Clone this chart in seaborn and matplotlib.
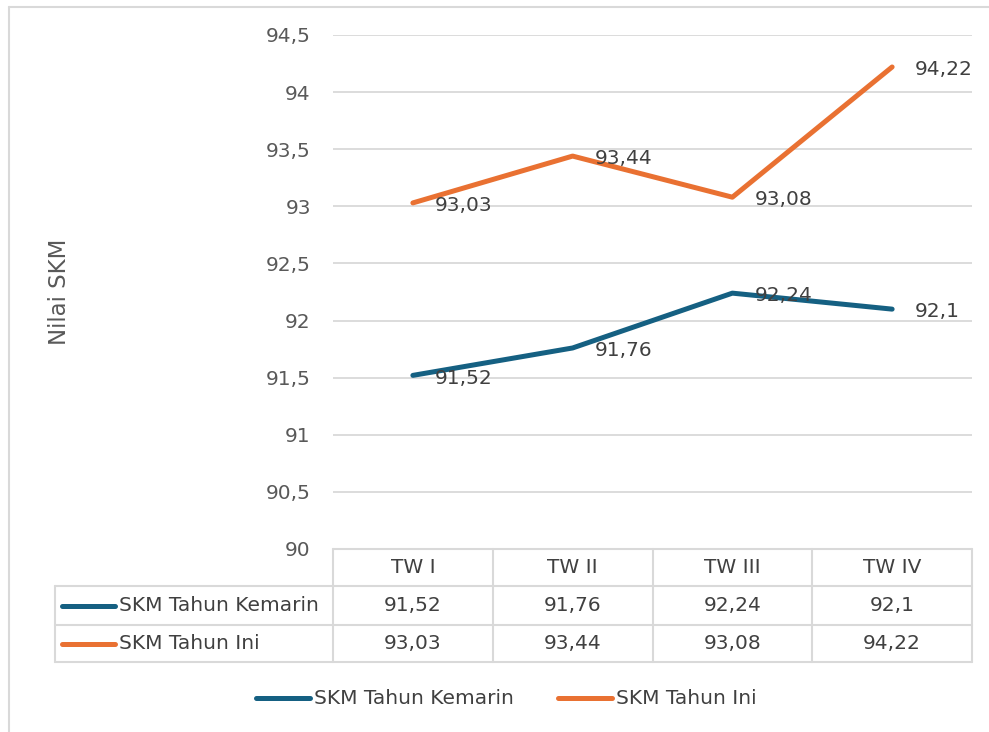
import numpy as np
import pandas as pd
import seaborn as sns
import matplotlib.pyplot as plt
from matplotlib.lines import Line2D
from matplotlib.transforms import blended_transform_factory

quarters = ["TW I", "TW II", "TW III", "TW IV"]
series_names = ["SKM Tahun Kemarin", "SKM Tahun Ini"]
last_year = [91.52, 91.76, 92.24, 92.10]
this_year = [93.03, 93.44, 93.08, 94.22]
y_ticks = [90, 90.5, 91, 91.5, 92, 92.5, 93, 93.5, 94, 94.5]
y_label = "Nilai SKM"

colors = ["#156082", "#E97132"]
grid_c = "#D9D9D9"
text_c = "#404040"
tick_c = "#595959"
fs = 14.5
lw = 3.6


def fmt(v):
    # Indonesian decimal comma, no trailing zeros
    s = f"{v:.2f}".rstrip("0").rstrip(".")
    return s.replace(".", ",")


df = pd.DataFrame({
    "quarter": quarters * 2,
    "series": [series_names[0]] * 4 + [series_names[1]] * 4,
    "value": last_year + this_year,
})

sns.set_theme(style="white")
plt.rcParams["font.family"] = ["DejaVu Sans"]

W, H = 989, 732
fig = plt.figure(figsize=(W / 100, H / 100), dpi=100)


def fx(px):
    return px / W


def fy(py):
    return 1 - py / H


ax = fig.add_axes([fx(333), fy(549), fx(972) - fx(333), fy(35) - fy(549)])
sns.lineplot(data=df, x="quarter", y="value", hue="series",
             palette=colors, linewidth=lw, legend=False, ax=ax,
             solid_capstyle="round")

ax.set_xlim(-0.5, 3.5)
ax.set_ylim(90, 94.5)
ax.set_yticks(y_ticks)
ax.set_yticklabels([fmt(t) for t in y_ticks], color=tick_c, fontsize=fs)
ax.tick_params(axis="y", length=0, pad=16)
ax.set_xticks([])
ax.set_xlabel("")
ax.set_ylabel("")
for t in y_ticks:
    ax.axhline(t, color=grid_c, lw=1.3, zorder=0)
for s in ax.spines.values():
    s.set_visible(False)

# data labels to the right of each point
for vals in (last_year, this_year):
    for i, v in enumerate(vals):
        ax.annotate(fmt(v), (i, v), xytext=(16, -2), textcoords="offset points",
                    ha="left", va="center", fontsize=fs, color=text_c)

fig.text(fx(60), fy(292), y_label, rotation=90, ha="center", va="center",
         fontsize=16.5, color=tick_c)

# data table under the axis
tr = blended_transform_factory(ax.transData, fig.transFigure)
rows_y = [fy(549), fy(586), fy(625), fy(662)]
right_edge = fx(972)
ax.plot([-0.5, 3.5], [rows_y[0], rows_y[0]], transform=tr, color=grid_c,
        lw=1.5, clip_on=False)
for yy in rows_y[1:]:
    fig.add_artist(Line2D([fx(55), right_edge], [yy, yy], color=grid_c, lw=1.5))
for xb in np.arange(-0.5, 4.0, 1.0):
    ax.plot([xb, xb], [rows_y[0], rows_y[-1]], transform=tr, color=grid_c,
            lw=1.5, clip_on=False)
fig.add_artist(Line2D([fx(55), fx(55)], [rows_y[1], rows_y[-1]],
                      color=grid_c, lw=1.5))

for i, q in enumerate(quarters):
    ax.text(i, (rows_y[0] + rows_y[1]) / 2, q, transform=tr, ha="center",
            va="center", fontsize=fs, color=text_c)
for r, (name, vals) in enumerate(zip(series_names, (last_year, this_year))):
    yc = (rows_y[r + 1] + rows_y[r + 2]) / 2
    for i, v in enumerate(vals):
        ax.text(i, yc, fmt(v), transform=tr, ha="center", va="center",
                fontsize=fs, color=text_c)
    fig.add_artist(Line2D([fx(62), fx(115)], [yc, yc], color=colors[r],
                          lw=lw, solid_capstyle="round"))
    fig.text(fx(119), yc, name, ha="left", va="center", fontsize=fs,
             color=text_c)

# bottom legend
for r, (name, x0) in enumerate(zip(series_names, (256, 558))):
    fig.add_artist(Line2D([fx(x0), fx(x0 + 54)], [fy(698), fy(698)],
                          color=colors[r], lw=lw, solid_capstyle="round"))
    fig.text(fx(x0 + 58), fy(698), name, ha="left", va="center",
             fontsize=fs, color=text_c)

# chart area border (top and left edges visible)
fig.add_artist(Line2D([fx(9), 1.0], [fy(6.5), fy(6.5)], color=grid_c, lw=1.5))
fig.add_artist(Line2D([fx(9), fx(9)], [fy(6.5), 0.0], color=grid_c, lw=1.5))

fig.savefig("out.png", dpi=100)
